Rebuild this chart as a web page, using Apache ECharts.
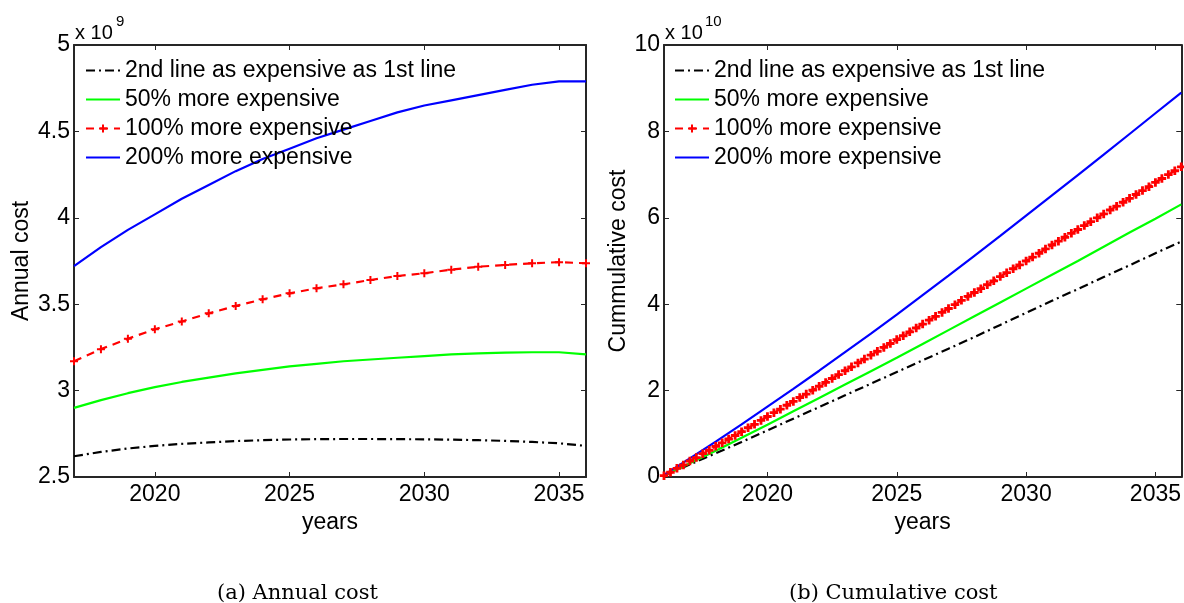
<!DOCTYPE html>
<html>
<head>
<meta charset="utf-8">
<script src="https://cdn.jsdelivr.net/npm/echarts@6/dist/echarts.min.js"></script>
<style>
html,body{margin:0;padding:0;background:#fff;}
#chart{width:1184px;height:603px;}
</style>
</head>
<body>
<div id="chart"></div>
<script>
// ---- Data (annual values in units of 1e9, cumulative in units of 1e10) ----
const seriesNames = [
  '2nd line as expensive as 1st line',
  '50% more expensive',
  '100% more expensive',
  '200% more expensive'
];
const annualYears = [2017,2018,2019,2020,2021,2022,2023,2024,2025,2026,2027,2028,2029,2030,2031,2032,2033,2034,2035,2036];
const annualBase = [2.62,2.645,2.665,2.68,2.692,2.70,2.708,2.713,2.717,2.719,2.72,2.72,2.719,2.718,2.716,2.713,2.709,2.703,2.695,2.68];
const annual50   = [2.90,2.945,2.985,3.02,3.05,3.075,3.10,3.12,3.14,3.155,3.17,3.18,3.19,3.20,3.21,3.215,3.22,3.222,3.222,3.21];
const annual100  = [3.17,3.24,3.30,3.355,3.40,3.447,3.49,3.528,3.563,3.592,3.615,3.64,3.663,3.679,3.70,3.717,3.727,3.737,3.743,3.737];
const annual200  = [3.72,3.83,3.93,4.02,4.11,4.19,4.27,4.34,4.40,4.46,4.51,4.56,4.61,4.65,4.68,4.71,4.74,4.77,4.79,4.79];

const cumYears = [2016,2017,2018,2019,2020,2021,2022,2023,2024,2025,2026,2027,2028,2029,2030,2031,2032,2033,2034,2035,2036];
const cumBase = [0.03,0.29,0.55,0.81,1.08,1.35,1.62,1.89,2.16,2.43,2.70,2.97,3.24,3.52,3.80,4.08,4.35,4.63,4.90,5.18,5.45];
const cum50   = [0.03,0.32,0.61,0.91,1.21,1.52,1.83,2.14,2.45,2.76,3.08,3.40,3.72,4.04,4.36,4.68,5.00,5.33,5.66,5.98,6.31];
const cum200  = [0.05,0.43,0.82,1.22,1.63,2.04,2.46,2.89,3.32,3.76,4.21,4.66,5.12,5.58,6.05,6.52,6.99,7.46,7.94,8.42,8.90];
// quarterly points (2016.00 ... 2036.00)
const cum100Quarterly = [
  0.03,0.11,0.20,0.28,
  0.37,0.45,0.54,0.62,
  0.71,0.79,0.88,0.96,
  1.05,1.14,1.22,1.31,
  1.40,1.49,1.57,1.66,
  1.75,1.84,1.92,2.01,
  2.10,2.19,2.28,2.37,
  2.46,2.55,2.64,2.73,
  2.82,2.91,3.00,3.09,
  3.18,3.27,3.36,3.45,
  3.54,3.63,3.72,3.81,
  3.90,3.99,4.09,4.18,
  4.27,4.36,4.45,4.54,
  4.64,4.73,4.82,4.91,
  5.00,5.09,5.18,5.28,
  5.37,5.46,5.55,5.64,
  5.73,5.82,5.91,6.00,
  6.09,6.18,6.27,6.36,
  6.45,6.54,6.63,6.72,
  6.82,6.91,7.00,7.09,
  7.18
];
const cumQuarterYears = cum100Quarterly.map((_, i) => 2016 + i / 4);

const yearTicks = [2020, 2025, 2030, 2035];

// ---- Chart ----
const zip = (xs, ys) => xs.map((x, i) => [x, ys[i]]);
const FONT = 'Liberation Sans, Arial, sans-serif';
const FS = 23;
const AX = '#262626';
const plus = 'path://M3,0H5V3H8V5H5V8H3V5H0V3H3Z';
const plusBold = 'path://M3,0H6V3H9V6H6V9H3V6H0V3H3Z';

function xAxisPair(grid, min, max, name) {
  return [
    {
      type: 'value', gridIndex: grid, position: 'bottom', min: min, max: max,
      name: name, nameLocation: 'middle', nameGap: 31,
      nameTextStyle: {fontSize: FS, color: '#000', fontFamily: FONT},
      axisLine: {show: true, onZero: false, lineStyle: {color: AX, width: 2}},
      axisTick: {show: true, inside: true, length: 5, lineStyle: {color: AX, width: 1}, customValues: yearTicks},
      axisLabel: {show: true, fontSize: FS, color: '#000', fontFamily: FONT, margin: 6,
        customValues: yearTicks, formatter: v => String(v)},
      splitLine: {show: false}
    },
    {
      type: 'value', gridIndex: grid, position: 'top', min: min, max: max,
      axisLine: {show: true, onZero: false, lineStyle: {color: AX, width: 2}},
      axisTick: {show: true, inside: true, length: 5, lineStyle: {color: AX, width: 1}, customValues: yearTicks},
      axisLabel: {show: false, customValues: yearTicks},
      splitLine: {show: false}
    }
  ];
}
function yAxisPair(grid, min, max, interval, name, gap) {
  return [
    {
      type: 'value', gridIndex: grid, position: 'left', min: min, max: max, interval: interval,
      name: name, nameLocation: 'middle', nameGap: gap, nameRotate: 90,
      nameTextStyle: {fontSize: FS, color: '#000', fontFamily: FONT},
      axisLine: {show: true, onZero: false, lineStyle: {color: AX, width: 2}},
      axisTick: {show: true, inside: true, length: 5, lineStyle: {color: AX, width: 1}},
      axisLabel: {show: true, fontSize: FS, color: '#000', fontFamily: FONT, margin: 4},
      splitLine: {show: false}
    },
    {
      type: 'value', gridIndex: grid, position: 'right', min: min, max: max, interval: interval,
      axisLine: {show: true, onZero: false, lineStyle: {color: AX, width: 2}},
      axisTick: {show: true, inside: true, length: 5, lineStyle: {color: AX, width: 1}},
      axisLabel: {show: false},
      splitLine: {show: false}
    }
  ];
}

function mkSeries(idx, name, data, kind, cumulative) {
  const base = {
    type: 'line', name: name, data: data,
    xAxisIndex: idx, yAxisIndex: idx,
    smooth: false, animation: false, silent: true,
    emphasis: {disabled: true}
  };
  if (kind === 'black') {
    return Object.assign(base, {symbol: 'none', itemStyle: {color: '#000000'},
      lineStyle: {color: '#000000', width: 2.2, type: [9, 4, 2, 4]}});
  }
  if (kind === 'green') {
    return Object.assign(base, {symbol: 'none', itemStyle: {color: '#00ff00'},
      lineStyle: {color: '#00ff00', width: 2.2}});
  }
  if (kind === 'blue') {
    return Object.assign(base, {symbol: 'none', itemStyle: {color: '#0000ff'},
      lineStyle: {color: '#0000ff', width: 2.2}});
  }
  // red
  return Object.assign(base, {
    symbol: cumulative ? plusBold : plus,
    symbolSize: cumulative ? 8.5 : 8,
    showSymbol: true, showAllSymbol: true,
    itemStyle: {color: '#ff0000', borderWidth: 0},
    lineStyle: {color: '#ff0000', width: 2.2, type: [8, 6]}
  });
}

function legend(left) {
  return {
    orient: 'vertical', left: left, top: 59, padding: 0,
    itemWidth: 34, itemHeight: 10, itemGap: 6,
    textStyle: {fontSize: FS, color: '#000', fontFamily: FONT, lineHeight: 22},
    selectedMode: false,
    data: seriesNames.map((n, i) => i === 2 ? {name: n} : {name: n, itemStyle: {opacity: 0}})
  };
}

const xs = xAxisPair(0, 2017, 2036, 'years').concat(xAxisPair(1, 2016, 2036, 'years'));
const ys = yAxisPair(0, 2.5, 5, 0.5, 'Annual cost', 41).concat(yAxisPair(1, 0, 10, 2, 'Cummulative cost', 33));

const option = {
  animation: false,
  backgroundColor: '#ffffff',
  textStyle: {fontFamily: FONT},
  grid: [
    {left: 74, top: 45, width: 512, height: 432, containLabel: false, show: false},
    {left: 664, top: 45, width: 518, height: 432, containLabel: false, show: false}
  ],
  legend: [legend(85), legend(674)],
  xAxis: [xs[0], xs[1], xs[2], xs[3]],
  yAxis: [ys[0], ys[1], ys[2], ys[3]],
  series: [
    mkSeries(0, seriesNames[0], zip(annualYears, annualBase), 'black', false),
    mkSeries(0, seriesNames[1], zip(annualYears, annual50), 'green', false),
    mkSeries(0, seriesNames[2], zip(annualYears, annual100), 'red', false),
    mkSeries(0, seriesNames[3], zip(annualYears, annual200), 'blue', false),
    mkSeries(2, seriesNames[0], zip(cumYears, cumBase), 'black', true),
    mkSeries(2, seriesNames[1], zip(cumYears, cum50), 'green', true),
    mkSeries(2, seriesNames[2], zip(cumQuarterYears, cum100Quarterly), 'red', true),
    mkSeries(2, seriesNames[3], zip(cumYears, cum200), 'blue', true)
  ],
  graphic: [
    {type: 'text', left: 75, top: 23, style: {text: 'x 10', font: '20px ' + FONT, fill: '#000'}},
    {type: 'text', left: 116, top: 14, style: {text: '9', font: '15px ' + FONT, fill: '#000'}},
    {type: 'text', left: 665, top: 23, style: {text: 'x 10', font: '20px ' + FONT, fill: '#000'}},
    {type: 'text', left: 705, top: 14, style: {text: '10', font: '15px ' + FONT, fill: '#000'}},
    {type: 'text', left: 217, top: 583, style: {text: '(a) Annual cost', font: '21px DejaVu Serif, serif', fill: '#000'}},
    {type: 'text', left: 789, top: 583, style: {text: '(b) Cumulative cost', font: '21px DejaVu Serif, serif', fill: '#000'}}
  ]
};
const chart = echarts.init(document.getElementById('chart'), null, {renderer: 'canvas'});
chart.setOption(option);
</script>
</body>
</html>
